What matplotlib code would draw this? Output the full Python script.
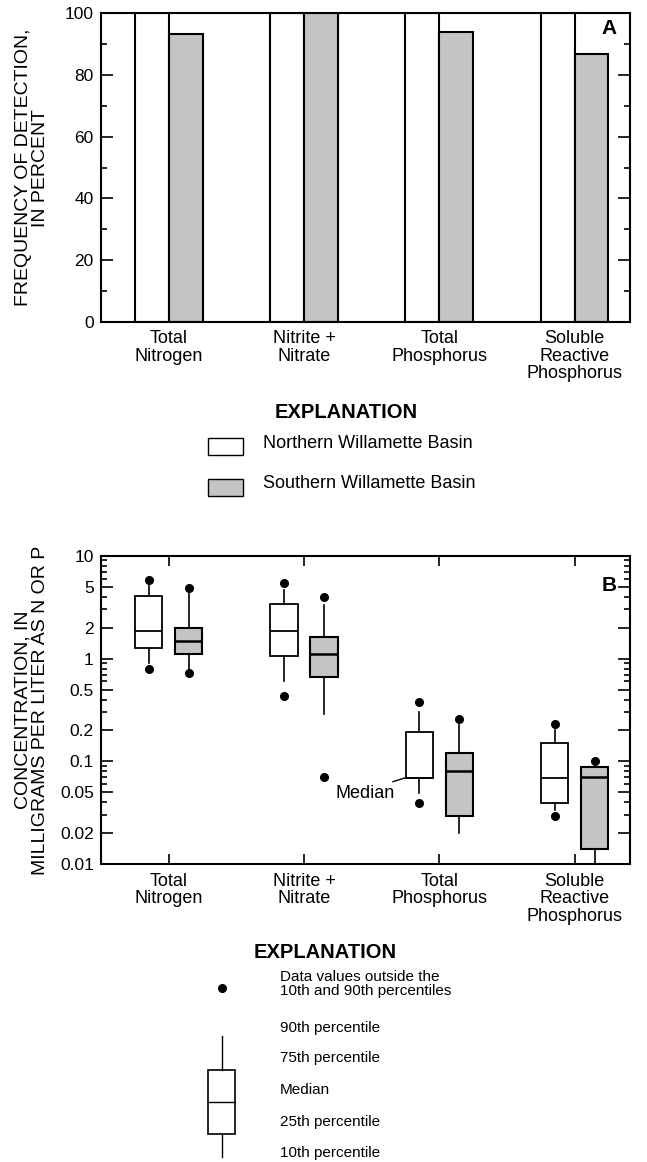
import matplotlib
matplotlib.use("Agg")
import matplotlib.pyplot as plt
import numpy as np
from matplotlib.patches import Rectangle
from matplotlib.lines import Line2D

plt.rcParams['font.family'] = ['Liberation Sans', 'DejaVu Sans']

# ---------------- data ----------------
categories = ["Total\nNitrogen", "Nitrite +\nNitrate", "Total\nPhosphorus",
              "Soluble\nReactive\nPhosphorus"]
series_names = ["Northern Willamette Basin", "Southern Willamette Basin"]

# Panel A: frequency of detection (percent)
freq_north = [100, 100, 100, 100]
freq_south = [93.3, 100, 93.9, 86.9]
freq_ticks = [0, 20, 40, 60, 80, 100]

# Panel B: concentration percentiles (mg/L)
north_p10 = [0.90, 0.60, 0.049, 0.034]
north_p25 = [1.26, 1.07, 0.0695, 0.039]
north_med = [1.86, 1.86, 0.0695, 0.0695]
north_p75 = [4.08, 3.39, 0.195, 0.152]
north_p90 = [5.2, 4.64, 0.305, 0.20]
north_out = [[5.8, 0.80], [5.47, 0.433], [0.378, 0.0397], [0.23, 0.0295]]

south_p10 = [0.775, 0.289, 0.020, 0.0095]
south_p25 = [1.11, 0.658, 0.0297, 0.0141]
south_med = [1.48, 1.12, 0.0813, 0.071]
south_p75 = [1.97, 1.63, 0.1216, 0.089]
south_p90 = [4.31, 3.32, 0.226, 0.092]
south_out = [[4.82, 0.72], [4.0, 0.070], [0.26], [0.10]]

conc_ticks = [0.01, 0.02, 0.05, 0.1, 0.2, 0.5, 1, 2, 5, 10]
conc_labels = ["0.01", "0.02", "0.05", "0.1", "0.2", "0.5", "1", "2", "5", "10"]
conc_minor = [m * d for d in (0.01, 0.1, 1) for m in (3, 4, 6, 7, 8, 9)]

GRAY = '#c4c4c4'
FS = 12.5

W, H = 647, 1162
fig = plt.figure(figsize=(W / 100, H / 100), dpi=100)


def px_axes(l, t, r, b):
    return fig.add_axes([l / W, 1 - b / H, (r - l) / W, (b - t) / H])


def style_axis(ax):
    for s in ax.spines.values():
        s.set_linewidth(1.5)
    ax.tick_params(axis='y', which='major', direction='in', length=8.5, width=1.2,
                   left=True, right=True, labelsize=FS, pad=5)
    ax.tick_params(axis='y', which='minor', direction='in', length=4.3, width=1.2,
                   left=True, right=True)
    ax.tick_params(axis='x', which='major', direction='in', length=7, width=1.2,
                   top=True, bottom=True, labelsize=13, pad=6)
    ax.tick_params(axis='x', which='minor', bottom=False, top=False)


x = np.arange(len(categories))
XLIM = (-0.503, 3.41)

# ---------------- Panel A ----------------
axA = px_axes(100.7, 13.3, 630, 321.7)
bw = 0.25
axA.bar(x - bw / 2, freq_north, bw, facecolor='white', edgecolor='black', linewidth=1.5, zorder=2)
axA.bar(x + bw / 2, freq_south, bw, facecolor=GRAY, edgecolor='black', linewidth=1.5, zorder=2)
axA.set_xlim(*XLIM)
axA.set_ylim(0, 100)
axA.set_yticks(freq_ticks)
axA.set_yticks([10, 30, 50, 70, 90], minor=True)
axA.set_xticks(x)
axA.set_xticklabels(categories, linespacing=1.05)
style_axis(axA)
axA.set_ylabel("FREQUENCY OF DETECTION,\nIN PERCENT", fontsize=14, linespacing=1.05)
axA.yaxis.set_label_coords(-0.097, 0.5)
axA.text(0.975, 0.95, "A", transform=axA.transAxes, ha='right', va='center',
         fontsize=15, fontweight='bold')

# ---------------- Panel B ----------------
axB = px_axes(100.7, 555.7, 630, 864.3)
axB.set_yscale('log')
off = 0.148
bwB = 0.2


def stats(p10, p25, med, p75, p90, out):
    return [dict(whislo=a, q1=b, med=c, q3=d, whishi=e, fliers=f)
            for a, b, c, d, e, f in zip(p10, p25, med, p75, p90, out)]


common = dict(widths=bwB, patch_artist=True, showcaps=False, showfliers=True,
              whiskerprops=dict(color='black', linewidth=1.2),
              flierprops=dict(marker='o', markerfacecolor='black', markeredgecolor='black',
                              markersize=5.5, linestyle='none'))
axB.bxp(stats(north_p10, north_p25, north_med, north_p75, north_p90, north_out),
        positions=x - off,
        boxprops=dict(facecolor='white', edgecolor='black', linewidth=1.3),
        medianprops=dict(color='black', linewidth=1.3), **common)
axB.bxp(stats(south_p10, south_p25, south_med, south_p75, south_p90, south_out),
        positions=x + off,
        boxprops=dict(facecolor=GRAY, edgecolor='black', linewidth=1.5),
        medianprops=dict(color='black', linewidth=1.8), **common)
axB.set_xlim(*XLIM)
axB.set_ylim(0.01, 10)
axB.set_yticks(conc_ticks, conc_labels)
axB.set_yticks(conc_minor, minor=True)
axB.yaxis.set_minor_formatter(matplotlib.ticker.NullFormatter())
axB.set_xticks(x)
axB.set_xticklabels(categories, linespacing=1.05)
style_axis(axB)
axB.set_ylabel("CONCENTRATION, IN\nMILLIGRAMS PER LITER AS N OR P", fontsize=14,
               linespacing=1.05)
axB.yaxis.set_label_coords(-0.097, 0.5)
axB.text(0.975, 0.905, "B", transform=axB.transAxes, ha='right', va='center',
         fontsize=15, fontweight='bold')
axB.annotate("Median", xy=(2 - off - bwB / 2, north_med[2]), xytext=(1.235, 0.0493),
             ha='left', va='center', fontsize=13,
             arrowprops=dict(arrowstyle='-', color='black', lw=1.0,
                             relpos=(0.72, 0.9), shrinkA=0, shrinkB=0))

# ---------------- Explanations (pixel overlay) ----------------
lay = fig.add_axes([0, 0, 1, 1], zorder=-1)
lay.set_xlim(0, W)
lay.set_ylim(H, 0)
lay.axis('off')

lay.text(346, 412, "EXPLANATION", ha='center', va='center', fontsize=14.5, fontweight='bold')
lay.add_patch(Rectangle((208, 438), 35, 17, facecolor='white', edgecolor='black', lw=1.0))
lay.text(263, 444, series_names[0], ha='left', va='center', fontsize=13)
lay.add_patch(Rectangle((208, 479), 35, 17, facecolor=GRAY, edgecolor='black', lw=1.0))
lay.text(263, 484, series_names[1], ha='left', va='center', fontsize=13)

lay.text(325, 953, "EXPLANATION", ha='center', va='center', fontsize=14.5, fontweight='bold')
lay.plot([222], [988], 'o', color='black', markersize=5.5)
lay.text(280, 984, "Data values outside the\n10th and 90th percentiles", ha='left',
         va='center', fontsize=11, linespacing=0.95)
lay.add_line(Line2D([222, 222], [1036, 1070], color='black', lw=1.0))
lay.add_patch(Rectangle((208, 1070), 27, 64, facecolor='white', edgecolor='black', lw=1.2))
lay.add_line(Line2D([208, 235], [1102, 1102], color='black', lw=1.0))
lay.add_line(Line2D([222, 222], [1134, 1157], color='black', lw=1.0))
for yy, t in [(1028, "90th percentile"), (1058, "75th percentile"), (1090, "Median"),
              (1122, "25th percentile"), (1153, "10th percentile")]:
    lay.text(280, yy, t, ha='left', va='center', fontsize=11)

fig.savefig("out.png", dpi=100)
